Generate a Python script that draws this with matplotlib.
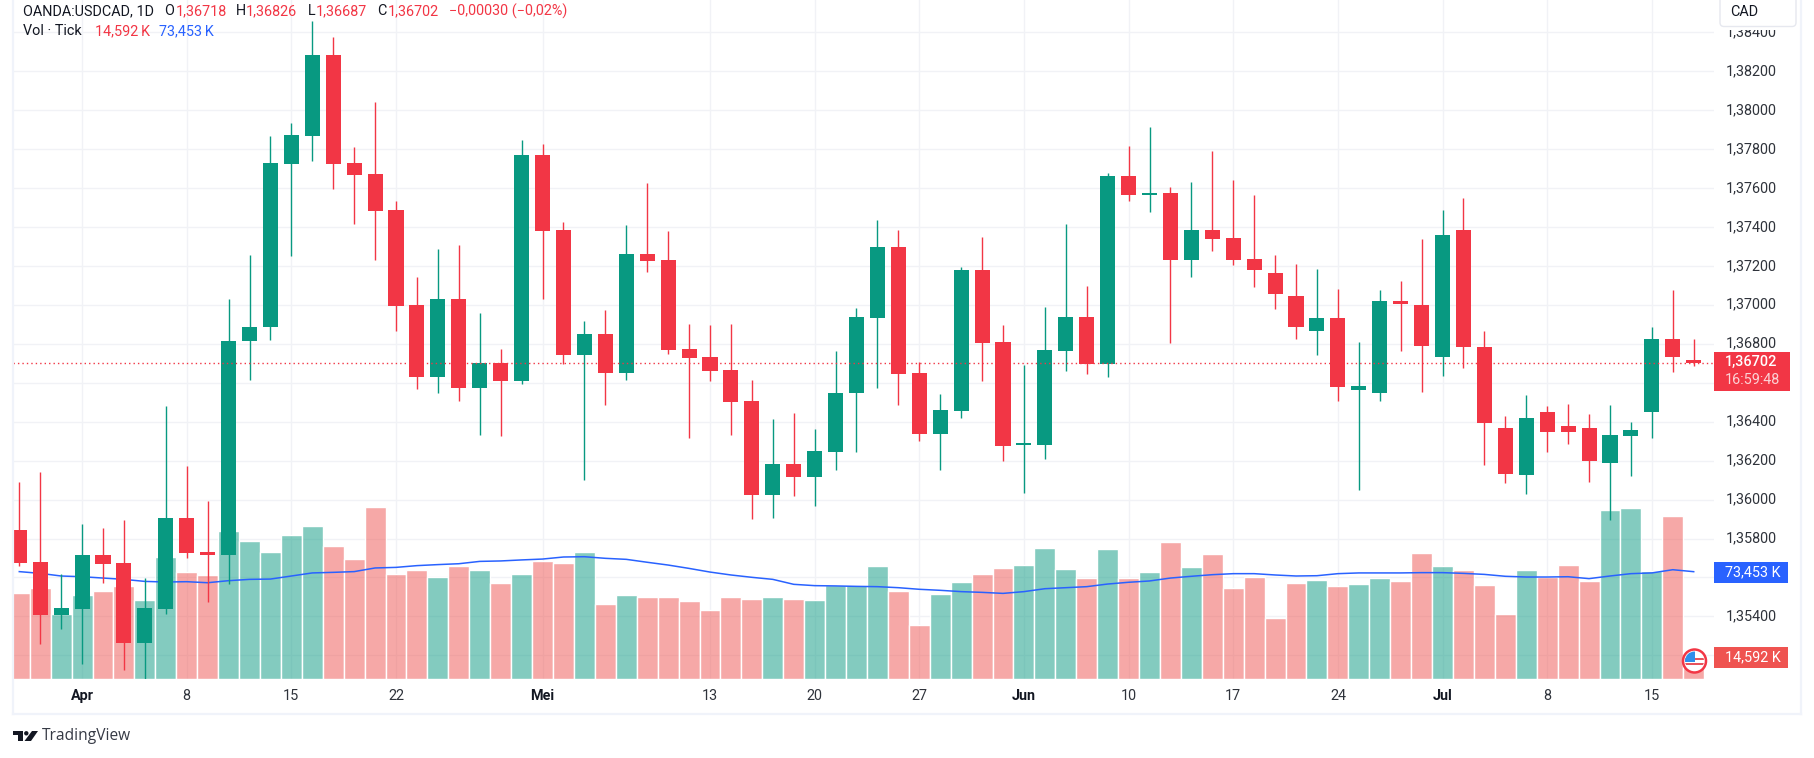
import matplotlib
matplotlib.use("Agg")
import matplotlib.pyplot as plt
from matplotlib.colors import to_rgba
from matplotlib.patches import Rectangle, Circle, Polygon, FancyBboxPatch
from matplotlib.transforms import ScaledTranslation

plt.rcParams['font.family'] = ['Roboto', 'DejaVu Sans']

# ---------- data ----------
opens = [1.35843, 1.35679, 1.35407, 1.35438, 1.35715, 1.35674, 1.35263, 1.35438, 1.35904, 1.35730,
         1.35715, 1.36812, 1.36884, 1.37724, 1.37868, 1.38283, 1.37730, 1.37673, 1.37489, 1.37001,
         1.36632, 1.37032, 1.36571, 1.36699, 1.36607, 1.37770, 1.37386, 1.36745, 1.36853, 1.36648,
         1.37263, 1.37232, 1.36771, 1.36730, 1.36668, 1.36504, 1.36022, 1.36181, 1.36115, 1.36243,
         1.36545, 1.36935, 1.37299, 1.36648, 1.36335, 1.36453, 1.37181, 1.36807, 1.36279, 1.36279,
         1.36761, 1.36940, 1.36694, 1.37663, 1.37565, 1.37576, 1.37232, 1.37386, 1.37345, 1.37237,
         1.37166, 1.37048, 1.36868, 1.36935, 1.36561, 1.36545, 1.37012, 1.37001, 1.36730, 1.37386,
         1.36786, 1.36366, 1.36125, 1.36448, 1.36376, 1.36366, 1.36186, 1.36325, 1.36448, 1.36827,
         1.36718]
closes = [1.35675, 1.35407, 1.35443, 1.35715, 1.35668, 1.35263, 1.35443, 1.35904, 1.35725, 1.35715,
          1.36817, 1.36889, 1.37730, 1.37873, 1.38283, 1.37724, 1.37668, 1.37483, 1.36996, 1.36632,
          1.37032, 1.36571, 1.36699, 1.36607, 1.37770, 1.37381, 1.36745, 1.36853, 1.36648, 1.37263,
          1.37227, 1.36766, 1.36725, 1.36663, 1.36499, 1.36022, 1.36181, 1.36115, 1.36248, 1.36550,
          1.36940, 1.37299, 1.36643, 1.36335, 1.36458, 1.37181, 1.36802, 1.36273, 1.36284, 1.36766,
          1.36940, 1.36694, 1.37663, 1.37565, 1.37576, 1.37232, 1.37386, 1.37340, 1.37232, 1.37181,
          1.37058, 1.36884, 1.36935, 1.36576, 1.36581, 1.37022, 1.37007, 1.36791, 1.37360, 1.36786,
          1.36391, 1.36130, 1.36417, 1.36345, 1.36345, 1.36197, 1.36330, 1.36355, 1.36827, 1.36730,
          1.36702]
highs = [1.36089, 1.36140, 1.35617, 1.35874, 1.35853, 1.35894, 1.35597, 1.36479, 1.36171, 1.35991,
         1.37032, 1.37258, 1.37868, 1.37935, 1.38458, 1.38375, 1.37812, 1.38042, 1.37535, 1.37145,
         1.37289, 1.37309, 1.36960, 1.36771, 1.37847, 1.37827, 1.37427, 1.36919, 1.36976, 1.37412,
         1.37627, 1.37381, 1.36904, 1.36899, 1.36904, 1.36612, 1.36412, 1.36443, 1.36361, 1.36761,
         1.36986, 1.37437, 1.37386, 1.36709, 1.36540, 1.37196, 1.37350, 1.36899, 1.36689, 1.36991,
         1.37417, 1.37099, 1.37678, 1.37817, 1.37914, 1.37606, 1.37632, 1.37791, 1.37642, 1.37565,
         1.37258, 1.37212, 1.37186, 1.37084, 1.36807, 1.37078, 1.37125, 1.37340, 1.37489, 1.37550,
         1.36868, 1.36427, 1.36535, 1.36479, 1.36489, 1.36438, 1.36484, 1.36397, 1.36889, 1.37078,
         1.36826]
lows = [1.35660, 1.35258, 1.35335, 1.35156, 1.35571, 1.35125, 1.35079, 1.35412, 1.35699, 1.35474,
        1.35566, 1.36615, 1.36822, 1.37253, 1.37740, 1.37596, 1.37417, 1.37232, 1.36868, 1.36566,
        1.36550, 1.36504, 1.36330, 1.36325, 1.36596, 1.37032, 1.36694, 1.36099, 1.36484, 1.36612,
        1.37171, 1.36750, 1.36314, 1.36607, 1.36330, 1.35899, 1.35904, 1.36017, 1.35966, 1.36150,
        1.36243, 1.36571, 1.36484, 1.36299, 1.36150, 1.36417, 1.36607, 1.36197, 1.36032, 1.36207,
        1.36658, 1.36643, 1.36632, 1.37535, 1.37478, 1.36802, 1.37145, 1.37278, 1.37207, 1.37094,
        1.36981, 1.36827, 1.36745, 1.36504, 1.36048, 1.36504, 1.36761, 1.36555, 1.36637, 1.36678,
        1.36176, 1.36084, 1.36027, 1.36243, 1.36284, 1.36089, 1.35894, 1.36120, 1.36314, 1.36653,
        1.36687]
volumes = [58.9, 62.3, 44.5, 57.5, 60.2, 63.7, 54.1, 83.5, 73.2, 71.2,
           101.3, 94.5, 86.9, 98.6, 104.7, 91.0, 82.1, 117.7, 71.9, 74.6,
           69.8, 77.3, 74.6, 65.7, 71.9, 80.8, 79.4, 86.9, 51.3, 57.5,
           56.1, 56.1, 53.4, 47.2, 56.1, 54.8, 56.1, 54.8, 54.1, 64.3,
           64.3, 77.3, 60.2, 37.0, 58.2, 66.4, 71.9, 76.0, 78.0, 89.7,
           75.3, 69.1, 89.0, 69.1, 73.2, 93.8, 76.7, 85.6, 62.3, 69.8,
           41.7, 65.7, 67.6, 63.7, 65.0, 69.1, 67.0, 86.3, 77.3, 74.6,
           64.3, 44.5, 74.6, 69.8, 78.0, 67.0, 115.7, 117.0, 73.9, 111.6,
           14.592]
volume_ma = [73.5, 72.3, 70.5, 70.0, 69.1, 68.2, 66.8, 66.4, 66.6, 65.9,
             67.3, 68.2, 68.4, 70.5, 72.6, 73.0, 73.5, 76.0, 76.4, 77.6,
             78.3, 78.9, 80.5, 80.8, 81.5, 82.1, 83.5, 83.7, 82.6, 81.9,
             79.9, 78.0, 75.7, 73.2, 71.2, 69.6, 68.2, 64.8, 63.9, 63.7,
             63.4, 63.2, 62.5, 61.4, 60.7, 59.8, 59.3, 58.6, 59.8, 61.8,
             62.5, 63.2, 65.0, 66.2, 67.1, 69.1, 70.3, 71.4, 72.1, 72.1,
             71.2, 70.5, 70.7, 72.1, 72.6, 72.6, 72.6, 72.8, 72.8, 72.3,
             71.6, 70.3, 69.8, 69.8, 70.0, 68.7, 70.5, 72.1, 72.6, 74.8,
             73.453]
volume_up = [0, 0, 1, 1, 0, 0, 1, 1, 0, 0,
             1, 1, 1, 1, 1, 0, 0, 0, 0, 0,
             1, 0, 1, 0, 1, 0, 0, 1, 0, 1,
             0, 0, 0, 0, 0, 0, 1, 0, 1, 1,
             1, 1, 0, 0, 1, 1, 0, 0, 1, 1,
             1, 0, 1, 0, 1, 0, 1, 0, 0, 0,
             0, 0, 1, 0, 1, 1, 0, 0, 1, 0,
             0, 0, 1, 0, 0, 0, 1, 1, 1, 0,
             0]
date_tick_pos = [3, 8, 13, 18, 25, 33, 38, 43, 48, 53, 58, 63, 68, 73, 78]
date_tick_labels = ['Apr', '8', '15', '22', 'Mei', '13', '20', '27', 'Jun', '10', '17', '24', 'Jul', '8', '15']
month_labels = ['Apr', 'Mei', 'Jun', 'Jul']
price_ticks = [1.352, 1.354, 1.356, 1.358, 1.360, 1.362, 1.364, 1.366, 1.368, 1.370,
               1.372, 1.374, 1.376, 1.378, 1.380, 1.382, 1.384]
covered_price_ticks = [1.352, 1.356, 1.366]   # sit under the value labels in the reference
last_price = 1.36702
last_ma = '73,453 K'
last_vol = '14,592 K'

# ---------- style ----------
GREEN = '#089981'
RED = '#F23645'
VRED = '#EF5350'
BLUE = '#2962FF'
GRID = '#F0F3FA'
TEXT = '#131722'
W, H = 1814, 758
FS = 10.4

# pixel layout
L, R, T, B = 13, 1714, 0, 679
XLIM = (-0.30, 80.97)
PRICE_LIM = (1.350785, 1.38566)
VOL_LIM = (0, 679 / 1.461)

fig = plt.figure(figsize=(W / 100, H / 100), dpi=100, facecolor='white')
pos = [L / W, (H - B) / H, (R - L) / W, (B - T) / H]

ax_grid = fig.add_axes(pos, zorder=1)
ax_vol = fig.add_axes(pos, zorder=2)
ax = fig.add_axes(pos, zorder=3)
for a in (ax_grid, ax_vol, ax):
    a.patch.set_visible(False)
    a.set_xlim(*XLIM)
    for s in a.spines.values():
        s.set_visible(False)

# grid
ax_grid.set_ylim(*PRICE_LIM)
ax_grid.set_xticks(date_tick_pos)
ax_grid.set_yticks(price_ticks)
ax_grid.grid(True, color='#F1F2F6', lw=1.0)
ax_grid.tick_params(length=0, labelbottom=False, labelleft=False)
ax_grid.set_axisbelow(True)

# volume
xs = list(range(len(opens)))
ax_vol.set_ylim(*VOL_LIM)
ax_vol.bar(xs, volumes, width=1.0,
           color=[to_rgba(GREEN if u else VRED, 0.5) for u in volume_up],
           edgecolor='white', lw=1.0)
ax_vol.plot(xs, volume_ma, color=BLUE, lw=1.1, solid_joinstyle='round')
ax_vol.axis('off')

# candles
ax.set_ylim(*PRICE_LIM)
for i, (o, h, l, c) in enumerate(zip(opens, highs, lows, closes)):
    col = GREEN if c >= o else RED
    ax.vlines(i, l, h, color=col, lw=1.0, zorder=3)
    ax.bar(i, max(abs(c - o), 0.00012), bottom=min(o, c), width=0.72, color=col, lw=0, zorder=4)
ax.axhline(last_price, color=RED, lw=1.0, ls=(0, (1, 2.2)), zorder=5)

# axes ticks
ax.yaxis.tick_right()
ax.set_yticks(price_ticks)
ax.set_yticklabels(["" if p in covered_price_ticks else f"{p:.5f}".replace('.', ',') for p in price_ticks],
                   fontsize=FS, color='#2f333b', ha='left')
ax.set_xticks(date_tick_pos)
ax.set_xticklabels(date_tick_labels, fontsize=FS, color='#2f333b')
for t in ax.get_xticklabels():
    if t.get_text() in month_labels:
        t.set_fontweight('bold')
        t.set_color(TEXT)
ax.tick_params(axis='y', length=0, pad=8.2)
ax.tick_params(axis='x', length=0, pad=7.5)
lift = ScaledTranslation(0, 1.6 / 100, fig.dpi_scale_trans)
for t in ax.get_yticklabels():
    t.set_transform(t.get_transform() + lift)

# overlay in pixel coordinates
ov = fig.add_axes([0, 0, 1, 1], zorder=10)
ov.set_xlim(0, W)
ov.set_ylim(H, 0)
ov.axis('off')
ov.patch.set_visible(False)

# frame
ov.plot([13, 13], [0, 714], color=GRID, lw=1.6)
ov.plot([13, 1801], [714, 714], color=GRID, lw=1.6)
ov.plot([1801, 1801], [0, 714], color=GRID, lw=1.6)

# currency box, with the white margin that cuts the top tick label
ov.add_patch(Rectangle((1715, 0), 84, 30, fc='white', lw=0))
ov.add_patch(FancyBboxPatch((1720, -10), 76, 36.5, boxstyle='round,pad=0,rounding_size=4',
                            fc='white', ec='#E6E8EF', lw=1.0))
ov.text(1730, 11.5, 'CAD', fontsize=FS, color=TEXT, va='center', ha='left')

# value labels
ov.add_patch(Rectangle((1714, 352), 76, 39, fc=RED, lw=0))
ov.text(1725, 362, '1,36702', fontsize=FS, color='white', va='center', ha='left', fontweight='medium')
ov.text(1725, 380.5, '16:59:48', fontsize=FS, color='#FBD3D6', va='center', ha='left')
ov.add_patch(Rectangle((1714, 562), 74, 21, fc=BLUE, lw=0))
ov.text(1725, 572.5, last_ma, fontsize=FS, color='white', va='center', ha='left')
ov.add_patch(Rectangle((1714, 647), 74, 21, fc=VRED, lw=0))
ov.text(1725, 657.5, last_vol, fontsize=FS, color='white', va='center', ha='left')

# header
def hdr(x, y, s, c=TEXT):
    ov.text(x, y, s, fontsize=FS, color=c, va='center', ha='left')

hdr(23, 11, 'OANDA:USDCAD, 1D')
hdr(164.5, 11, 'O')
hdr(175.5, 11, '1,36718', RED)
hdr(236, 11, 'H')
hdr(246, 11, '1,36826', RED)
hdr(308, 11, 'L')
hdr(316, 11, '1,36687', RED)
hdr(377.5, 11, 'C')
hdr(387.5, 11, '1,36702', RED)
hdr(449, 11, '\u22120,00030 (\u22120,02%)', RED)
hdr(23, 31, 'Vol \u00b7 Tick')
hdr(95, 31, '14,592\u2009K', RED)
hdr(159, 31, '73,453\u2009K', BLUE)

# flag marker
cx, cy, r = 1694.5, 661, 11.5
ov.add_patch(Circle((cx, cy), r, fc='white', ec=RED, lw=1.8, zorder=3))
clip = Circle((cx, cy), r - 2, transform=ov.transData)
for (x, y, w, h, c) in [(cx - r, cy + 1.5, 2 * r, 2.5, '#E8525C'),
                        (cx - r, cy - 3, 2 * r, 2.2, '#E8525C'),
                        (cx - r, cy - r, r, r + 0.5, '#2F8FEA')]:
    p = Rectangle((x, y), w, h, fc=c, lw=0, zorder=4)
    ov.add_patch(p)
    p.set_clip_path(clip)

# TradingView logo
ov.add_patch(Polygon([(13, 731), (23, 731), (23, 741), (18, 741), (18, 735), (13, 735)], closed=True, fc=TEXT, lw=0))
ov.add_patch(Circle((26.3, 733.3), 2.2, fc=TEXT, lw=0))
ov.add_patch(Polygon([(32, 731), (38, 731), (31, 741), (24.5, 741)], closed=True, fc=TEXT, lw=0))
ov.text(42, 736.5, 'TradingView', fontsize=11.2, color='#363A45', va='center', ha='left', fontfamily='Open Sans')

fig.savefig('out.png', dpi=100, facecolor='white')
